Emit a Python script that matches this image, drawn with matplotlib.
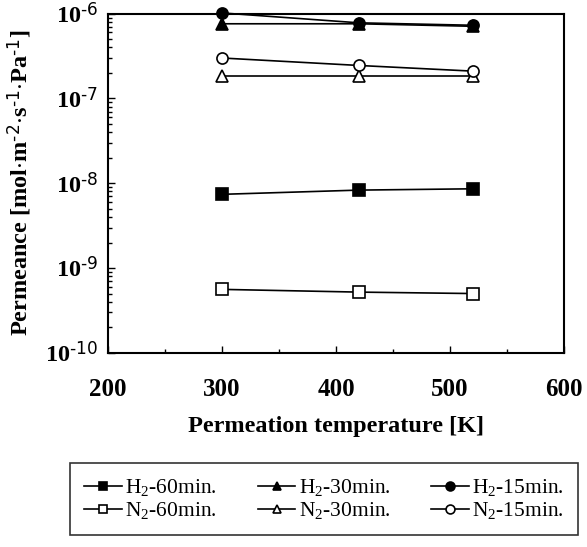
import matplotlib.pyplot as plt
from matplotlib.ticker import FixedLocator, LogLocator, MultipleLocator, NullFormatter

plt.rcParams['font.family'] = ['Liberation Serif', 'DejaVu Serif']
plt.rcParams['mathtext.default'] = 'regular'

temps = [300, 420, 520]

h2_60 = [7.4e-9, 8.3e-9, 8.6e-9]
h2_30 = [7.6e-7, 7.6e-7, 7.1e-7]
h2_15 = [1.02e-6, 7.8e-7, 7.3e-7]
n2_60 = [5.6e-10, 5.2e-10, 5.0e-10]
n2_30 = [1.86e-7, 1.86e-7, 1.86e-7]
n2_15 = [3.0e-7, 2.45e-7, 2.1e-7]

y_ticks = [1e-10, 1e-9, 1e-8, 1e-7, 1e-6]
y_ticklabels = [r'10$^{\text{-10}}$', r'10$^{\text{-9}}$', r'10$^{\text{-8}}$',
                r'10$^{\text{-7}}$', r'10$^{\text{-6}}$']

fig = plt.figure(figsize=(5.87, 5.47), dpi=100)
ax = fig.add_axes([0.184, 0.355, 0.777, 0.620])

ms = 8
lw = 1.2
# order so that ncol=3 legend gives H2 on row 1, N2 on row 2
series = [
    (h2_60, 's', 'k', r'H$_2$-60min.'),
    (n2_60, 's', 'w', r'N$_2$-60min.'),
    (h2_30, '^', 'k', r'H$_2$-30min.'),
    (n2_30, '^', 'w', r'N$_2$-30min.'),
    (h2_15, 'o', 'k', r'H$_2$-15min.'),
    (n2_15, 'o', 'w', r'N$_2$-15min.'),
]
for vals, mk, fc, lab in series:
    ax.plot(temps, vals, color='k', lw=lw, marker=mk, markersize=ms,
            markerfacecolor=fc, markeredgecolor='k', markeredgewidth=1.2,
            label=lab, clip_on=False)

ax.set_yscale('log')
ax.set_ylim(1e-10, 1e-6)
ax.set_xlim(200, 600)
ax.xaxis.set_major_locator(MultipleLocator(100))
ax.xaxis.set_minor_locator(MultipleLocator(50))
ax.yaxis.set_major_locator(FixedLocator(y_ticks))
ax.set_yticklabels(y_ticklabels)
ax.yaxis.set_minor_locator(LogLocator(base=10, subs=range(2, 10), numticks=50))
ax.yaxis.set_minor_formatter(NullFormatter())

ax.tick_params(which='both', direction='in', top=False, right=False, width=1)
ax.tick_params(axis='x', which='major', length=5, pad=18, labelsize=18)
ax.tick_params(axis='x', which='minor', length=3)
ax.tick_params(axis='y', which='major', length=5, pad=7, labelsize=17.5)
ax.tick_params(axis='y', which='minor', length=3)
for lbl in ax.get_xticklabels() + ax.get_yticklabels():
    lbl.set_fontweight('bold')
for sp in ax.spines.values():
    sp.set_linewidth(1.5)

ax.set_xlabel('Permeation temperature [K]', fontsize=17.5, fontweight='bold', labelpad=11)
ax.set_ylabel(r'Permeance [mol$\cdot$m$^{\text{-2}}$$\cdot$s$^{\text{-1}}$$\cdot$Pa$^{\text{-1}}$]',
              fontsize=17.5, fontweight='bold', labelpad=8)

leg = fig.legend(loc='center', bbox_to_anchor=(0.552, 0.087), ncol=3,
                 fontsize=15.5, frameon=True, fancybox=False, edgecolor='k',
                 handlelength=1.75, handletextpad=0.15, columnspacing=1.9,
                 borderpad=0.65, borderaxespad=0, labelspacing=0.1,
                 markerscale=0.8)
leg.get_frame().set_linewidth(1.2)

fig.savefig('out.png', dpi=100)
